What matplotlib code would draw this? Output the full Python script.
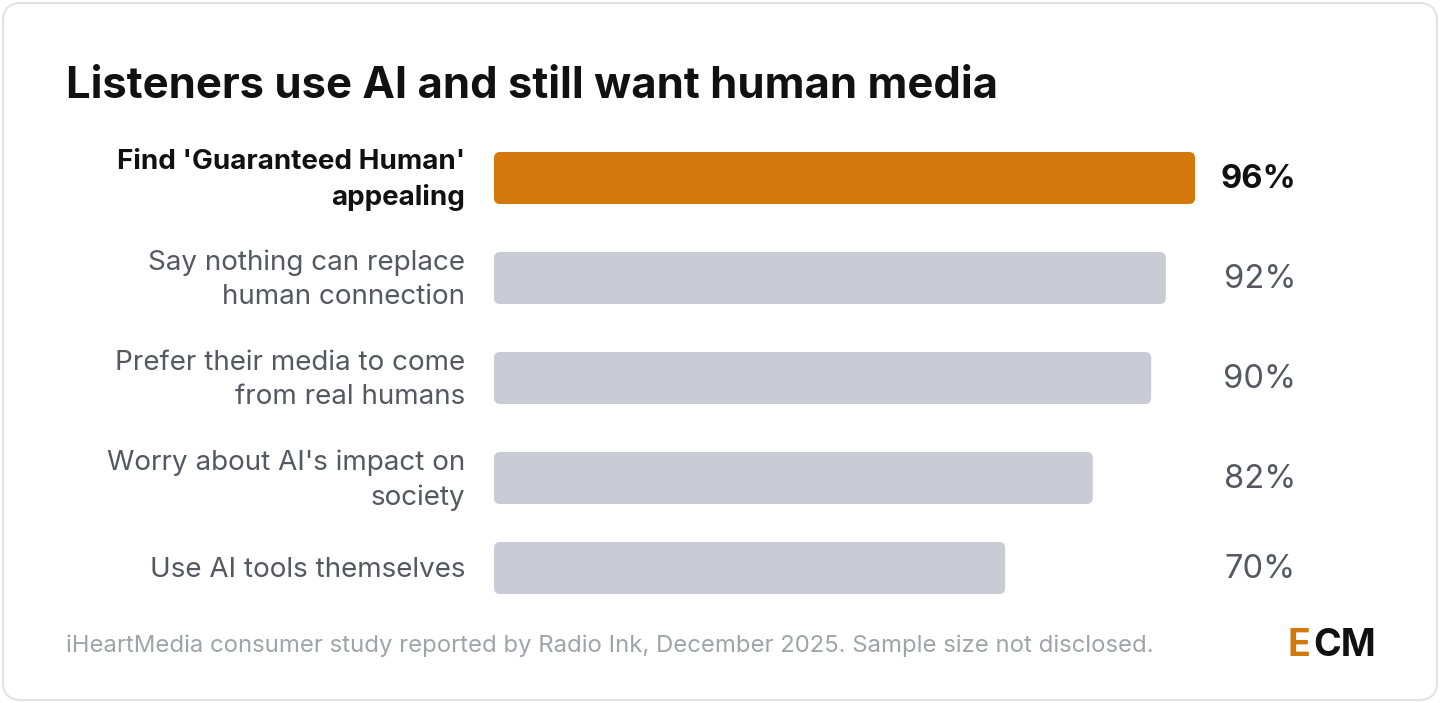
import matplotlib
matplotlib.use("Agg")
import matplotlib.pyplot as plt
from matplotlib.patches import FancyBboxPatch

labels = ["Find 'Guaranteed Human'\nappealing", "Say nothing can replace\nhuman connection",
          "Prefer their media to come\nfrom real humans", "Worry about AI's impact on\nsociety",
          "Use AI tools themselves"]
values = [96, 92, 90, 82, 70]
highlight = [True, False, False, False, False]

ORANGE = "#d4780b"
GREY = "#c9ccd4"
W, H = 1440, 703
ycent = [178, 278, 378, 478, 568]   # bar centres in pixels (layout)

plt.rcParams["font.family"] = ["Inter", "DejaVu Sans"]
fig = plt.figure(figsize=(W / 100, H / 100), dpi=100)
bg = fig.add_axes([0, 0, 1, 1])
bg.set_xlim(0, W); bg.set_ylim(H, 0); bg.axis("off")
bg.add_patch(FancyBboxPatch((3, 3), W - 6, H - 6, boxstyle="round,pad=0,rounding_size=18",
             facecolor="white", edgecolor="#e2e2e2", linewidth=1.5))

bg.text(66, 86, "Listeners use AI and still want human media", fontsize=31.4,
        fontweight="bold", color="#111111", va="center")

# bar axes: x from 494 px to 1195 px covers 0..96
x0, x1 = 494, 1195
ax = fig.add_axes([x0 / W, 0, (x1 - x0) / W, 1])
ax.set_xlim(0, 96); ax.set_ylim(H, 0); ax.axis("off")
bars = ax.barh(ycent, values, height=52)
px = 96 / (x1 - x0)
for b, hl in zip(bars, highlight):
    b.set_visible(False)
    ax.add_patch(FancyBboxPatch((b.get_x(), b.get_y()), b.get_width(), b.get_height(),
                 boxstyle=f"round,pad=0,rounding_size={6 * px}", mutation_aspect=1 / px,
                 facecolor=ORANGE if hl else GREY, edgecolor="none"))

for lab, v, y, hl in zip(labels, values, ycent, highlight):
    bg.text(465, y + 2, lab, ha="right", va="center", fontsize=20, linespacing=1.42,
            color="#111111" if hl else "#555860", fontweight="bold" if hl else "normal")
    bg.text(1296, y + 2, f"{v}%", ha="right", va="center", fontsize=23.5,
            color="#111111" if hl else "#555860", fontweight="bold" if hl else "normal")

bg.text(66, 646, "iHeartMedia consumer study reported by Radio Ink, December 2025. Sample size not disclosed.",
        fontsize=17.2, color="#a0a3aa", va="center")
bg.text(1288, 646, "E", fontsize=27, fontweight="bold", color=ORANGE, va="center")
bg.text(1313, 646, "CM", fontsize=27, fontweight="bold", color="#111111", va="center")

fig.savefig("out.png", dpi=100)
